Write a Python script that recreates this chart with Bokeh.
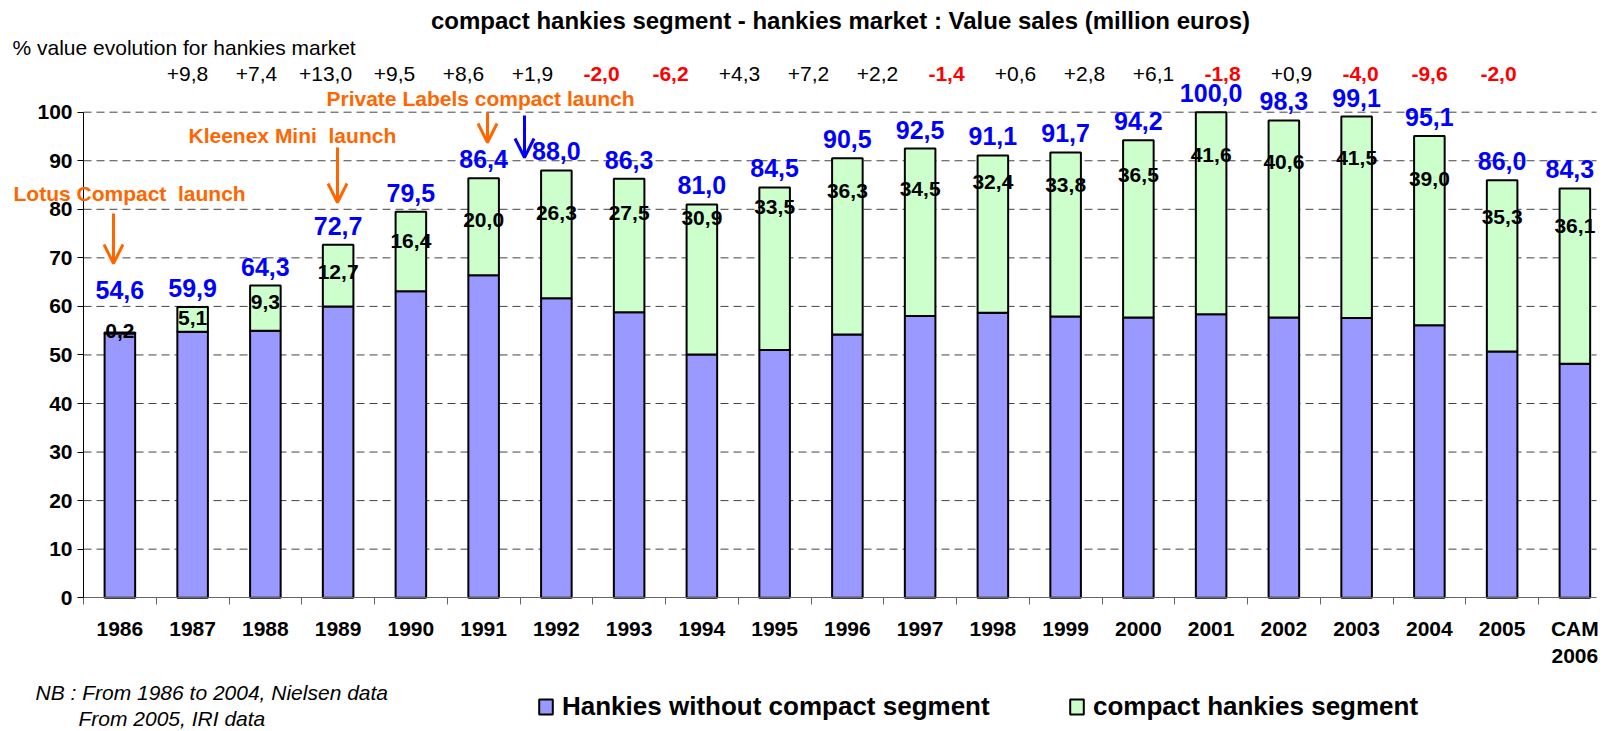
from bokeh.plotting import figure
from bokeh.models import (Range1d, FixedTicker, Label, Arrow, OpenHead, Legend,
                          LegendItem, ColumnDataSource)
from bokeh.core.properties import value
from bokeh.embed import file_html
from bokeh.resources import INLINE

# ---------------- data ----------------
categories = ["1986", "1987", "1988", "1989", "1990", "1991", "1992", "1993", "1994",
              "1995", "1996", "1997", "1998", "1999", "2000", "2001", "2002", "2003",
              "2004", "2005", "CAM\n2006"]
total_sales = [54.6, 59.9, 64.3, 72.7, 79.5, 86.4, 88.0, 86.3, 81.0, 84.5, 90.5,
               92.5, 91.1, 91.7, 94.2, 100.0, 98.3, 99.1, 95.1, 86.0, 84.3]
compact_sales = [0.2, 5.1, 9.3, 12.7, 16.4, 20.0, 26.3, 27.5, 30.9, 33.5, 36.3,
                 34.5, 32.4, 33.8, 36.5, 41.6, 40.6, 41.5, 39.0, 35.3, 36.1]
# % value evolution, from 1987 to CAM 2006
evolution = [9.8, 7.4, 13.0, 9.5, 8.6, 1.9, -2.0, -6.2, 4.3, 7.2, 2.2, -1.4, 0.6,
             2.8, 6.1, -1.8, 0.9, -4.0, -9.6, -2.0]
y_ticks = [0, 10, 20, 30, 40, 50, 60, 70, 80, 90, 100]

idx = list(range(len(categories)))
without_sales = [round(t - c, 1) for t, c in zip(total_sales, compact_sales)]


def fr(v):
    return f"{v:.1f}".replace(".", ",")


# ---------------- layout (page pixel geometry) ----------------
W, H = 1604, 731
AXIS_X = 83.0        # page x of the value axis
ZERO_Y = 597.2       # page y of value 0
PPU = 4.855          # pixels per value unit
CAT_PX = 72.75       # pixels per category


def px_x(page_x):
    return (page_x - AXIS_X) / CAT_PX - 0.5


def px_y(page_y):
    return (ZERO_Y - page_y) / PPU


X0, X1 = px_x(0), px_x(W)
Y0, Y1 = px_y(H), px_y(0)
X_END = px_x(1596)

FONT = "Liberation Sans"
TB = "alphabetic"   # in this renderer, y lands at the visual centre of the digits

p = figure(width=W, height=H, x_range=Range1d(X0, X1), y_range=Range1d(Y0, Y1),
           output_backend="svg", toolbar_location=None, title=None,
           min_border_left=0, min_border_right=0, min_border_top=0,
           min_border_bottom=0)
p.outline_line_color = None
p.background_fill_color = "white"
p.grid.visible = False

# dashed value grid lines, from the axis to the right edge
p.segment(x0=[-0.5] * 10, x1=[X_END] * 10, y0=y_ticks[1:], y1=y_ticks[1:],
          line_color="#444444", line_width=1, line_dash="8 5")

r_without = p.vbar(x=idx, bottom=0, top=without_sales, width=0.42,
                   fill_color="#9999FF", line_color="black", line_width=2)
r_compact = p.vbar(x=idx, bottom=without_sales, top=total_sales, width=0.42,
                   fill_color="#CCFFCC", line_color="black", line_width=2)

# axes drawn at fixed positions inside the full-canvas frame
p.yaxis.fixed_location = -0.5
p.yaxis.bounds = (0, 100)
p.yaxis.ticker = FixedTicker(ticks=y_ticks)
p.yaxis.major_tick_out = 6
p.yaxis.major_tick_in = 0
p.yaxis.minor_tick_line_color = None
p.yaxis.axis_line_color = "black"
p.yaxis.major_tick_line_color = "black"
p.yaxis.major_label_standoff = 5
p.yaxis.major_label_text_font = FONT
p.yaxis.major_label_text_font_size = "21px"
p.yaxis.major_label_text_font_style = "bold"
p.yaxis.major_label_text_color = "black"

p.xaxis.fixed_location = 0
p.xaxis.bounds = (-0.5, X_END)
p.xaxis.ticker = FixedTicker(ticks=idx, minor_ticks=[i - 0.5 for i in idx])
p.xaxis.major_label_overrides = {i: c for i, c in zip(idx, categories)}
p.xaxis.major_tick_line_color = None
p.xaxis.major_tick_out = 0
p.xaxis.major_tick_in = 0
p.xaxis.minor_tick_in = 0
p.xaxis.minor_tick_out = 7
p.xaxis.minor_tick_line_color = "#666666"
p.xaxis.axis_line_color = "#666666"
p.xaxis.major_label_standoff = 12
p.xaxis.major_label_text_font = FONT
p.xaxis.major_label_text_font_size = "21px"
p.xaxis.major_label_text_font_style = "bold"
p.xaxis.major_label_text_color = "black"

# total labels (blue) above bars: px from the bar top up to the label centre
gap_px = [43 if i == 0 else 19 for i in idx]
shift_px = [-5 if i == idx[-1] else 0 for i in idx]
src_tot = ColumnDataSource(dict(x=idx, y=[t + g / PPU for t, g in zip(total_sales, gap_px)],
                                text=[fr(t) for t in total_sales], dx=shift_px))
p.text(x="x", y="y", text="text", x_offset="dx", source=src_tot, text_align="center",
       text_baseline=TB, text_font=value(FONT), text_font_size="25px",
       text_font_style="bold", text_color="#0000FF")

# compact segment labels (black): px from the bar top down to the label centre
drop_px = [-2, 11, 16, 27, 29, 42, 43, 34, 14, 20, 33, 40, 27, 33, 35, 43, 42, 41, 43, 37, 38]
src_cmp = ColumnDataSource(dict(x=idx, y=[t - d / PPU for t, d in zip(total_sales, drop_px)],
                                text=[fr(c) for c in compact_sales]))
p.text(x="x", y="y", text="text", source=src_cmp, text_align="center",
       text_baseline=TB, text_font=value(FONT), text_font_size="21px",
       text_font_style="bold", text_color="black")

# % evolution row (typed slightly compressed in the original)
evo_first = px_x(187)
evo_step = 69 / CAT_PX
evo_y = px_y(73.5)
pos_x, pos_t, neg_x, neg_t = [], [], [], []
for k, e in enumerate(evolution):
    xx = evo_first + k * evo_step
    if e >= 0:
        pos_x.append(xx); pos_t.append("+" + fr(e))
    else:
        neg_x.append(xx); neg_t.append("-" + fr(-e))
p.text(x=pos_x, y=[evo_y] * len(pos_x), text=pos_t, text_align="center",
       text_baseline=TB, text_font=value(FONT), text_font_size="21px",
       text_color="black")
p.text(x=neg_x, y=[evo_y] * len(neg_x), text=neg_t, text_align="center",
       text_baseline=TB, text_font=value(FONT), text_font_size="21px",
       text_font_style="bold", text_color="#FF0000")


def add_label(text, page_x, page_y, size, style="normal", color="black", align="left"):
    p.add_layout(Label(x=px_x(page_x), y=px_y(page_y), text=text, text_font=FONT,
                       text_font_size=size, text_font_style=style, text_color=color,
                       text_align=align, text_baseline=TB))


add_label("compact hankies segment - hankies market : Value sales (million euros)",
          840, 20, "24px", "bold", "black", "center")
add_label("% value evolution for hankies market", 12, 47, "21px")

ORANGE = "#FF6600"
add_label("Lotus Compact \u00a0launch", 13, 192.5, "21px", "bold", ORANGE)
add_label("Kleenex Mini \u00a0launch", 188, 134.5, "21px", "bold", ORANGE)
add_label("Private Labels compact launch", 326, 97.5, "21px", "bold", ORANGE)

add_label("NB : From 1986 to 2004, Nielsen data", 35, 692, "21px", "italic")
add_label("From 2005, IRI data", 78, 718, "21px", "italic")


def add_arrow(page_x, y0, y1, color):
    p.add_layout(Arrow(end=OpenHead(size=19, line_color=color, line_width=3),
                       x_start=px_x(page_x), y_start=px_y(y0),
                       x_end=px_x(page_x), y_end=px_y(y1),
                       line_color=color, line_width=3))


add_arrow(113, 213, 263, ORANGE)
add_arrow(337, 147, 202, ORANGE)
add_arrow(487, 112, 142, ORANGE)
add_arrow(524, 115, 157, "#0000FF")

# legend
for lab, rend, lx in [("Hankies without compact segment", r_without, 537),
                      ("compact hankies segment", r_compact, 1068)]:
    leg = Legend(items=[LegendItem(label=lab, renderers=[rend])],
                 location=(lx, H - 722),
                 border_line_color=None, background_fill_alpha=0, padding=0, margin=0,
                 glyph_width=17, glyph_height=19, label_standoff=8,
                 label_text_font=FONT, label_text_font_size="26px",
                 label_text_font_style="bold", label_text_color="black")
    p.add_layout(leg)

open("out.html", "w").write(file_html(p, INLINE))
